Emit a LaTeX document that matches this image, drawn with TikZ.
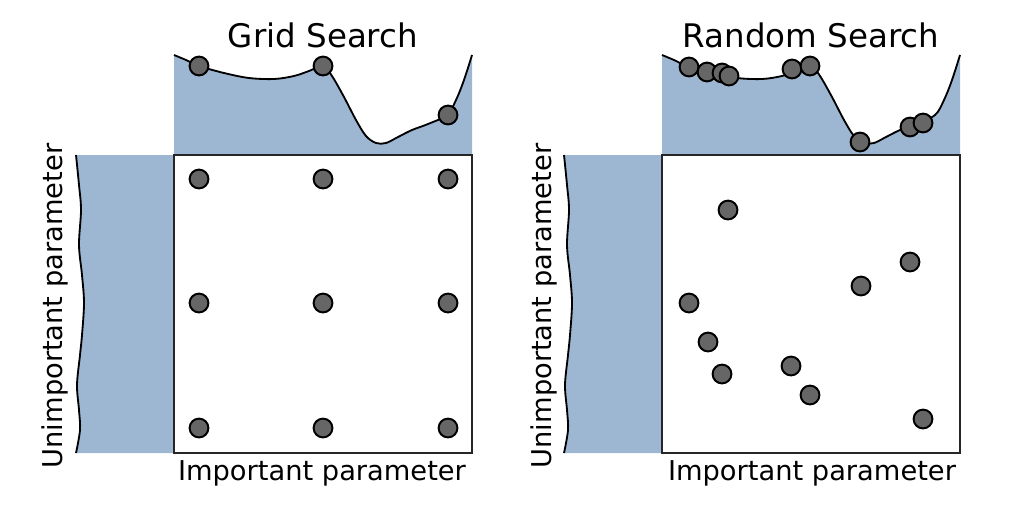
\documentclass[tikz,border=0pt]{standalone}
\usepackage{fontspec}
\setmainfont{DejaVu Sans}
\definecolor{margfill}{RGB}{157,182,210}
\definecolor{dotgray}{RGB}{102,102,102}
\begin{document}
\begin{tikzpicture}[x=0.025cm,y=-0.025cm,
  dot/.style={circle,fill=dotgray,draw=black,line width=1.4pt,inner sep=0pt,minimum size=0.47cm},
  curveline/.style={line width=1.3pt,black},
  boxline/.style={line width=0.9pt,draw=black!85,fill=white},
  titletext/.style={anchor=base,font=\fontsize{23.1}{26}\selectfont},
  axistext/.style={anchor=base,font=\fontsize{19.4}{22}\selectfont}]
\useasboundingbox (0,0) rectangle (1016,506);
\foreach \sx in {0,488}{
\begin{scope}[shift={(\sx,0)}]
  % top marginal
  \fill[margfill] (174,155) -- (174,55) -- plot[smooth,tension=0.55] coordinates{(174,55) (186,60) (199,66) (224,73) (249,78) (274,79) (294,76) (309,71) (323,66) (332,76) (344,97) (356,120) (366,136) (376,143) (386,143) (398,137) (412,130) (428,124) (447,115) (456,100) (464,80) (472,55)} -- (472,155) -- cycle;
  \draw[curveline] plot[smooth,tension=0.55] coordinates{(174,55) (186,60) (199,66) (224,73) (249,78) (274,79) (294,76) (309,71) (323,66) (332,76) (344,97) (356,120) (366,136) (376,143) (386,143) (398,137) (412,130) (428,124) (447,115) (456,100) (464,80) (472,55)};
  % left marginal
  \fill[margfill] (174,155) -- (76,155) -- plot[smooth,tension=0.55] coordinates{(76,155) (79,185) (81,210) (79,245) (82,275) (84,303) (82,335) (80,355) (77,385) (79,410) (80,430) (76,453)} -- (174,453) -- cycle;
  \draw[curveline] plot[smooth,tension=0.55] coordinates{(76,155) (79,185) (81,210) (79,245) (82,275) (84,303) (82,335) (80,355) (77,385) (79,410) (80,430) (76,453)};
  % main box
  \draw[boxline] (174,155) rectangle (472,453);
\end{scope}
}
% titles and axis labels
\node[titletext] (t1) at (323,47) {Grid Search};
\node[titletext] (t2) at (811,47) {Random Search};
\node[axistext] (x1) at (322,480) {Important parameter};
\node[axistext] (x2) at (812,480) {Important parameter};
\node[axistext,rotate=90] (y1) at (62.5,306) {Unimportant parameter};
\node[axistext,rotate=90] (y2) at (551,306) {Unimportant parameter};
% grid search dots
\foreach \x [count=\i] in {199,323,448}{
  \foreach \y [count=\j] in {179,303,428}{
    \node[dot] (g\i\j) at (\x,\y) {};
  }
}
\node[dot] (gt1) at (199,66) {};
\node[dot] (gt2) at (323,66) {};
\node[dot] (gt3) at (448,115) {};
% random search dots
\foreach \x/\y [count=\i] in {689/303,708/342,722/374,728/210,791/366,810/395,861/286,910/262,923/419}{
  \node[dot] (r\i) at (\x,\y) {};
}
\foreach \x/\y [count=\i] in {689/67,707/72,722/73,729/76,792/69,810/66,860/142,910/127,923/123}{
  \node[dot] (rt\i) at (\x,\y) {};
}
\end{tikzpicture}
\end{document}
